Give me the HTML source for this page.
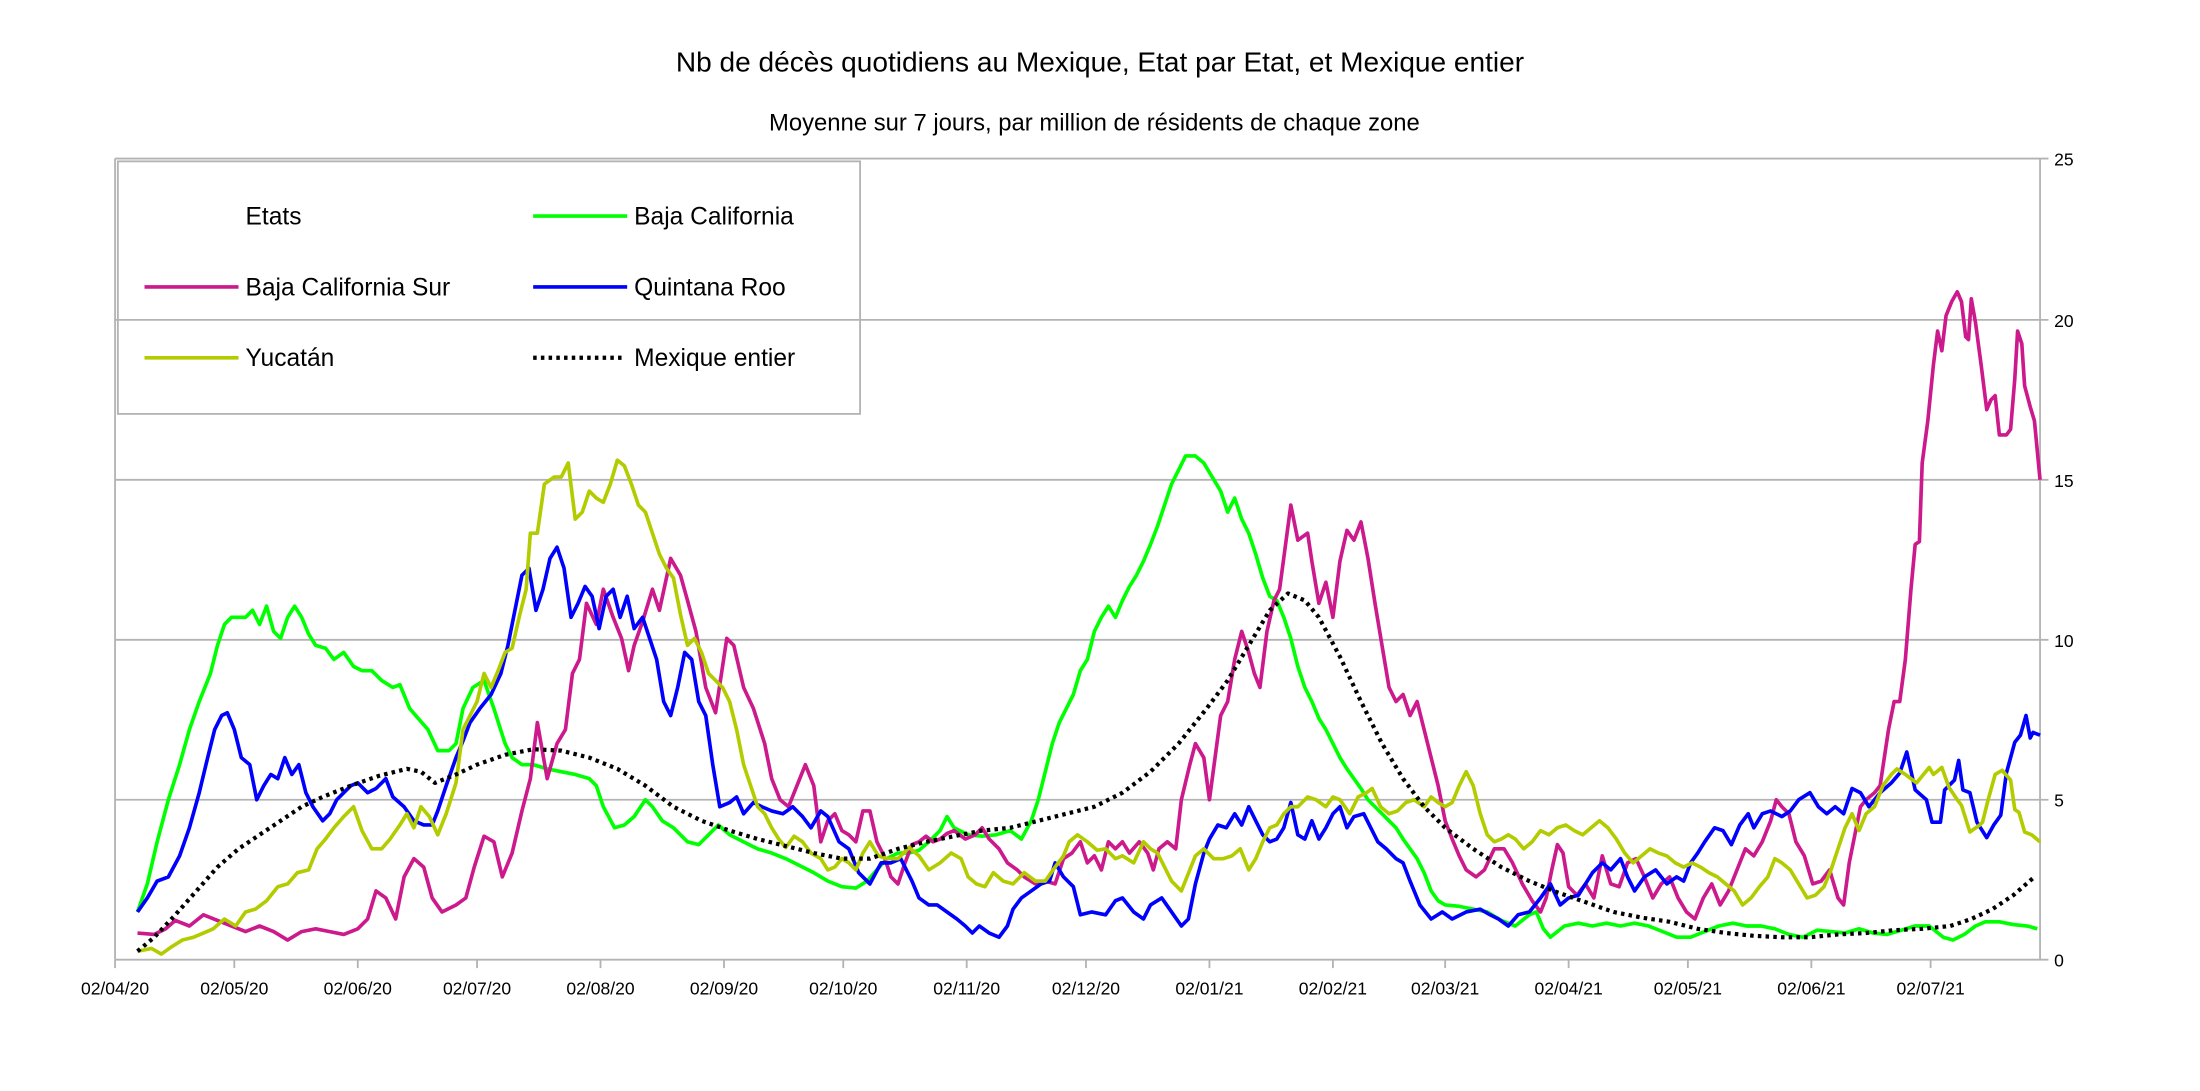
<!DOCTYPE html>
<html><head><meta charset="utf-8"><style>
html,body{margin:0;padding:0;background:#fff;width:2200px;height:1091px;overflow:hidden}
svg{display:block}
text{font-family:"Liberation Sans",sans-serif;fill:#000}
</style></head><body>
<svg width="2200" height="1091" viewBox="0 0 1568 777.6" preserveAspectRatio="none" xmlns="http://www.w3.org/2000/svg">
<rect width="1568" height="777.6" fill="#fff"/>
<text x="784" y="51" font-size="20" text-anchor="middle">Nb de décès quotidiens au Mexique, Etat par Etat, et Mexique entier</text>
<text x="780" y="93" font-size="17" text-anchor="middle">Moyenne sur 7 jours, par million de résidents de chaque zone</text>
<g stroke="#b3b3b3" stroke-width="1.3">
<line x1="82" y1="113" x2="1460" y2="113"/>
<line x1="82" y1="228" x2="1460" y2="228"/>
<line x1="82" y1="342" x2="1460" y2="342"/>
<line x1="82" y1="456" x2="1460" y2="456"/>
<line x1="82" y1="570" x2="1460" y2="570"/>
<line x1="82" y1="684" x2="1460" y2="684"/>
<line x1="82" y1="113" x2="82" y2="684"/>
<line x1="1454" y1="113" x2="1454" y2="684"/>
</g>
<g stroke="#b3b3b3" stroke-width="1.3">
<line x1="82" y1="684" x2="82" y2="690"/><line x1="167" y1="684" x2="167" y2="690"/><line x1="255" y1="684" x2="255" y2="690"/><line x1="340" y1="684" x2="340" y2="690"/><line x1="428" y1="684" x2="428" y2="690"/><line x1="516" y1="684" x2="516" y2="690"/><line x1="601" y1="684" x2="601" y2="690"/><line x1="689" y1="684" x2="689" y2="690"/><line x1="774" y1="684" x2="774" y2="690"/><line x1="862" y1="684" x2="862" y2="690"/><line x1="950" y1="684" x2="950" y2="690"/><line x1="1030" y1="684" x2="1030" y2="690"/><line x1="1118" y1="684" x2="1118" y2="690"/><line x1="1203" y1="684" x2="1203" y2="690"/><line x1="1291" y1="684" x2="1291" y2="690"/><line x1="1376" y1="684" x2="1376" y2="690"/>
</g>
<g font-size="12.5" text-anchor="middle">
<text x="82" y="709">02/04/20</text><text x="167" y="709">02/05/20</text><text x="255" y="709">02/06/20</text><text x="340" y="709">02/07/20</text><text x="428" y="709">02/08/20</text><text x="516" y="709">02/09/20</text><text x="601" y="709">02/10/20</text><text x="689" y="709">02/11/20</text><text x="774" y="709">02/12/20</text><text x="862" y="709">02/01/21</text><text x="950" y="709">02/02/21</text><text x="1030" y="709">02/03/21</text><text x="1118" y="709">02/04/21</text><text x="1203" y="709">02/05/21</text><text x="1291" y="709">02/06/21</text><text x="1376" y="709">02/07/21</text>
</g>
<g font-size="12.5">
<text x="1464" y="118">25</text><text x="1464" y="233">20</text><text x="1464" y="347">15</text><text x="1464" y="461">10</text><text x="1464" y="575">5</text><text x="1464" y="689">0</text>
</g>
<g fill="none" stroke-width="2.6" stroke-linejoin="round">
<polyline stroke="#00ff00" points="98,650 105,630 112,600 120,570 128,545 135,520 142,500 150,480 155,460 160,445 165,440 175,440 180,435 185,445 190,432 195,450 200,455 205,440 210,432 215,440 220,452 225,460 232,462 238,470 245,465 252,475 258,478 265,478 272,485 280,490 285,488 292,505 298,512 305,520 312,535 320,535 325,530 330,505 337,490 345,485 352,505 360,530 365,540 372,545 380,545 390,548 400,550 410,552 420,555 425,560 430,575 438,590 445,588 452,582 460,570 465,575 472,585 480,590 490,600 498,602 505,595 512,588 520,595 530,600 540,605 550,608 560,612 570,617 580,622 590,628 600,632 610,633 618,628 625,620 632,612 640,608 648,608 655,606 662,600 670,592 675,582 680,590 690,595 700,596 710,595 720,592 728,598 735,585 740,570 745,550 750,530 755,515 760,505 765,495 770,478 775,470 780,450 785,440 790,432 795,440 800,428 805,418 810,410 815,400 820,388 825,375 830,360 835,345 840,335 845,325 852,325 858,330 864,340 870,350 875,365 880,355 885,370 890,380 895,395 900,412 905,425 910,428 915,440 920,455 925,475 930,490 935,500 940,512 945,520 950,530 955,540 960,548 965,555 970,562 975,570 980,575 985,580 990,585 995,590 1000,598 1005,605 1010,612 1015,622 1020,635 1025,642 1030,645 1040,646 1050,648 1060,650 1070,656 1080,660 1090,652 1095,650 1100,662 1105,668 1115,660 1125,658 1135,660 1145,658 1155,660 1165,658 1175,660 1185,664 1195,668 1205,668 1215,664 1225,660 1235,658 1245,660 1255,660 1265,662 1275,666 1285,668 1295,663 1305,664 1315,665 1325,662 1335,665 1345,666 1355,663 1365,660 1375,660 1385,668 1392,670 1400,666 1408,660 1415,657 1425,657 1435,659 1445,660 1452,662"/>
<polyline stroke="#cc1a8c" points="98,665 110,666 118,662 125,656 135,660 145,652 155,656 165,660 175,664 185,660 195,664 205,670 215,664 225,662 235,664 245,666 255,662 262,655 268,635 275,640 282,655 288,625 295,612 302,618 308,640 315,650 325,645 332,640 338,618 345,596 352,600 358,625 365,608 372,578 378,555 383,515 390,555 397,530 403,520 408,480 413,470 418,430 425,445 430,420 437,440 443,455 448,478 452,460 458,443 465,420 470,435 478,398 485,410 490,428 496,450 503,490 510,508 518,455 523,460 530,490 537,505 545,530 550,555 556,570 562,575 568,560 574,545 580,560 585,600 590,585 595,580 600,592 605,595 610,600 615,578 620,578 625,600 630,610 635,625 640,630 645,615 650,602 655,600 660,596 665,600 670,598 675,594 680,592 688,598 695,595 700,590 705,598 712,605 718,615 725,620 730,625 738,630 745,628 752,630 758,612 764,608 770,600 775,615 780,610 785,620 790,600 795,605 800,600 805,608 812,600 818,608 822,620 826,605 832,600 838,605 842,570 848,545 852,530 858,540 862,570 866,540 870,510 875,500 880,470 885,450 890,465 894,480 898,490 903,450 908,428 912,420 916,390 920,360 925,385 932,380 935,400 940,430 945,415 950,440 955,400 960,378 965,385 970,372 975,398 980,430 985,460 990,490 995,500 1000,495 1005,510 1010,500 1015,520 1020,540 1025,560 1030,585 1035,598 1040,610 1045,620 1052,625 1058,620 1065,605 1072,605 1078,615 1085,630 1092,642 1098,650 1102,640 1106,620 1110,602 1114,608 1118,632 1124,638 1130,630 1136,640 1142,610 1148,630 1154,632 1160,615 1166,612 1172,625 1178,640 1184,630 1190,625 1196,640 1202,650 1208,655 1214,640 1220,630 1226,645 1232,635 1238,620 1244,605 1250,610 1256,600 1262,585 1266,570 1270,575 1275,580 1280,600 1286,610 1292,630 1298,628 1304,620 1310,640 1314,645 1318,615 1322,595 1326,575 1330,570 1336,565 1340,560 1346,520 1350,500 1354,500 1358,470 1362,420 1365,388 1368,386 1370,330 1374,300 1378,260 1381,236 1384,250 1387,225 1391,215 1395,208 1398,215 1401,240 1403,242 1405,213 1408,230 1412,260 1416,292 1419,285 1422,282 1425,310 1430,310 1433,306 1436,270 1438,236 1441,245 1443,275 1447,290 1450,300 1454,342"/>
<polyline stroke="#0000ff" points="98,650 105,640 112,628 120,625 128,610 135,590 142,565 148,540 153,520 158,510 162,508 167,520 172,540 178,545 183,570 188,560 193,552 198,555 203,540 208,552 213,545 218,565 223,575 230,585 235,580 240,570 245,565 250,560 255,558 262,565 268,562 275,555 280,568 288,575 295,585 302,588 308,588 312,578 318,560 325,540 330,528 335,515 342,505 350,495 357,480 362,460 367,435 372,410 377,405 382,435 387,420 392,398 397,390 402,405 407,440 412,430 417,418 422,425 427,448 432,425 437,420 442,440 447,425 452,448 458,440 463,455 468,470 473,500 478,510 483,490 488,465 493,470 498,500 503,510 508,545 513,575 520,572 525,568 530,580 537,572 543,575 550,578 558,580 565,575 572,582 578,590 585,578 590,582 598,600 605,605 612,622 620,630 628,615 635,615 642,612 650,628 655,640 662,645 668,645 675,650 682,655 688,660 693,665 698,660 705,665 712,668 718,660 722,648 728,640 735,635 742,630 748,628 752,615 758,625 765,632 770,652 778,650 788,652 795,642 800,640 808,650 815,655 820,645 828,640 835,650 842,660 847,655 852,630 858,608 862,598 868,588 874,590 880,580 885,588 890,575 895,585 900,595 905,600 910,598 915,590 920,572 925,595 930,598 935,585 940,598 945,590 950,580 955,575 960,590 965,582 972,580 977,590 982,600 988,605 995,612 1000,615 1005,628 1012,645 1020,655 1028,650 1035,655 1045,650 1055,648 1062,652 1068,655 1075,660 1082,652 1090,650 1098,640 1105,630 1112,645 1118,640 1125,638 1130,630 1135,622 1142,615 1148,620 1155,612 1160,625 1165,635 1172,625 1180,620 1188,630 1195,625 1200,628 1205,615 1210,608 1215,600 1222,590 1228,592 1234,602 1240,588 1246,580 1250,590 1256,580 1262,578 1270,582 1276,578 1282,570 1290,565 1296,575 1302,580 1308,575 1314,580 1320,562 1326,565 1332,575 1340,565 1348,558 1354,551 1359,536 1365,563 1373,570 1377,586 1383,586 1386,563 1393,556 1396,542 1399,563 1404,565 1409,586 1416,597 1421,588 1426,581 1430,551 1436,529 1440,524 1444,510 1447,526 1449,522 1454,524"/>
<polyline stroke="#b3cc00" points="98,678 108,676 115,680 122,675 130,670 138,668 145,665 152,662 160,655 168,660 175,650 182,648 190,642 198,632 205,630 212,622 220,620 226,605 232,598 238,590 245,582 252,575 258,592 265,605 272,605 278,598 285,588 290,580 295,590 300,575 306,582 312,595 318,580 325,558 330,520 335,510 340,500 345,480 350,490 355,478 360,465 365,462 370,440 375,420 378,380 383,380 388,345 395,340 400,340 405,330 410,370 415,365 420,350 425,355 430,358 435,345 440,328 445,332 450,345 455,360 460,365 465,380 470,395 475,405 480,412 485,438 490,460 495,455 500,465 505,480 510,485 515,490 520,500 525,520 530,545 535,560 540,575 545,580 550,590 555,598 560,604 566,596 572,600 578,608 585,612 590,620 595,618 600,612 605,615 610,620 615,608 620,600 626,610 632,612 640,612 648,604 655,610 662,620 670,615 678,608 685,612 690,625 696,630 702,632 708,622 715,628 722,630 730,622 738,628 745,628 752,618 758,610 762,600 768,595 775,600 782,606 788,605 795,612 800,610 808,615 815,600 820,605 825,608 830,618 835,628 842,635 848,620 852,610 858,605 865,612 872,612 878,610 884,605 890,620 895,612 900,600 905,590 910,588 915,580 920,575 925,575 932,568 938,570 945,575 950,568 955,570 962,580 968,568 974,565 978,562 984,575 990,580 996,578 1002,572 1008,570 1015,575 1020,568 1025,572 1030,575 1035,572 1040,560 1045,550 1050,560 1055,580 1060,595 1065,600 1070,598 1075,595 1080,598 1086,605 1092,600 1098,592 1104,595 1110,590 1116,588 1122,592 1128,595 1134,590 1140,585 1146,590 1152,598 1158,608 1164,615 1170,610 1176,605 1182,608 1188,610 1194,615 1200,618 1206,615 1212,618 1218,622 1224,625 1230,630 1236,635 1242,645 1248,640 1254,632 1260,625 1265,612 1270,615 1276,620 1282,630 1288,640 1294,638 1300,632 1305,620 1310,605 1315,590 1320,580 1325,592 1330,580 1336,575 1342,560 1348,552 1352,548 1358,552 1366,558 1375,547 1378,552 1384,547 1389,561 1395,570 1398,574 1404,593 1411,588 1413,586 1417,570 1422,552 1427,549 1433,556 1436,577 1439,579 1443,593 1448,595 1454,600"/>
<polyline stroke="#000" stroke-width="3" stroke-dasharray="2.5,3" points="98,678 110,668 125,652 140,635 155,618 170,605 185,595 200,585 215,575 230,568 250,560 270,553 290,548 300,550 310,558 325,552 340,545 360,538 380,534 400,535 420,540 440,548 460,560 480,575 500,585 520,592 540,598 560,603 580,608 600,612 620,612 640,605 660,600 680,596 700,592 720,590 740,585 760,580 780,575 800,565 820,550 840,530 860,505 875,485 890,460 905,435 918,423 930,428 940,440 955,468 970,500 985,530 1000,555 1015,575 1030,590 1050,605 1070,618 1090,628 1110,636 1130,643 1150,650 1170,654 1190,657 1210,662 1230,665 1250,667 1270,668 1290,668 1310,666 1330,665 1350,663 1370,662 1390,660 1405,655 1420,648 1435,638 1450,625"/>
</g>
<rect x="84" y="115" width="529" height="180" fill="none" stroke="#b3b3b3" stroke-width="1.3"/>
<g font-size="17.5">
<text x="175" y="160">Etats</text>
<line x1="380" y1="154" x2="447" y2="154" stroke="#00ff00" stroke-width="2.6"/>
<text x="452" y="160">Baja California</text>
<line x1="103" y1="204.5" x2="170" y2="204.5" stroke="#cc1a8c" stroke-width="2.6"/>
<text x="175" y="210.5">Baja California Sur</text>
<line x1="380" y1="204.5" x2="447" y2="204.5" stroke="#0000ff" stroke-width="2.6"/>
<text x="452" y="210.5">Quintana Roo</text>
<line x1="103" y1="255" x2="170" y2="255" stroke="#b3cc00" stroke-width="2.6"/>
<text x="175" y="261">Yucatán</text>
<line x1="380" y1="255" x2="445" y2="255" stroke="#000" stroke-width="3" stroke-dasharray="2.5,3"/>
<text x="452" y="261">Mexique entier</text>
</g>
</svg>
</body></html>
